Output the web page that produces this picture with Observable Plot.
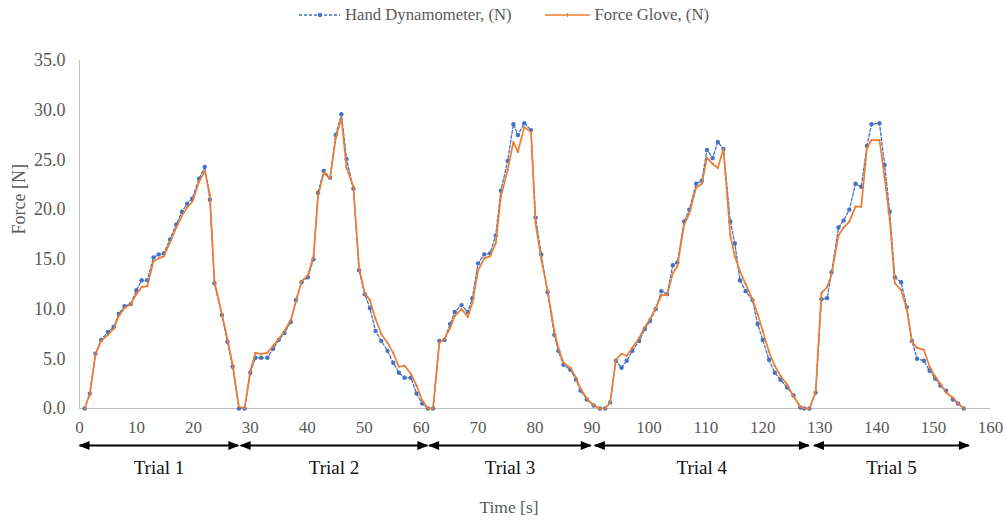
<!DOCTYPE html>
<html><head><meta charset="utf-8">
<script src="https://cdn.jsdelivr.net/npm/d3@7"></script>
<script src="https://cdn.jsdelivr.net/npm/@observablehq/plot@0.6"></script>
<style>
body{margin:0;background:#fff;font-family:"Liberation Serif","Times New Roman",serif;}
#legend{height:30px;display:flex;justify-content:center;align-items:center;gap:32px;font-size:16.7px;color:#595959;}
.item{display:flex;align-items:center;gap:4px;}
#chart svg{display:block;}
</style></head><body>
<div id="legend"></div>
<div id="chart"></div>
<script>
const seriesNames = ["Hand Dynamometer, (N)", "Force Glove, (N)"];
const seriesColors = ["#4472C4", "#ED7D31"];

const time = [
  0.9, 1.8, 2.8, 3.8, 5.0, 6.0, 6.9, 7.9, 9.0, 10.0, 10.9, 11.9, 13.0, 13.9, 14.8, 15.9, 17.0, 18.0, 18.9, 19.8, 21.0, 22.0, 22.9, 23.7, 25.0, 26.0, 26.9, 28.0,
  29.0, 30.0, 30.9, 31.9, 33.0, 34.0, 35.0, 36.0, 37.1, 38.0, 39.0, 40.1, 41.1, 41.9, 42.9, 44.0, 45.0, 46.0, 46.9, 48.1, 49.1, 50.1, 51.0, 52.0, 53.0, 54.1, 55.1, 56.1, 57.1, 58.2, 59.2, 60.2, 61.2, 62.1,
  63.2, 64.1, 65.1, 65.9, 67.1, 68.2, 69.0, 70.0, 71.1, 72.1, 73.1, 74.0, 75.2, 76.2, 77.0, 78.1, 79.3, 80.1, 81.1, 82.2, 83.4, 84.1, 85.0, 86.2, 87.2, 88.0, 89.1, 90.3, 91.4, 92.3,
  93.2, 94.2, 95.2, 96.1, 97.1, 98.3, 99.3, 100.2, 101.2, 102.2, 103.2, 104.2, 105.0, 106.2, 107.1, 108.3, 109.3, 110.2, 111.2, 112.1, 113.1, 114.3, 115.1, 116.0, 117.0, 118.2, 119.1, 120.0, 121.1, 122.1, 123.1, 124.3, 125.4, 126.6, 127.3,
  128.2, 129.3, 130.3, 131.3, 132.1, 133.3, 134.2, 135.2, 136.3, 137.3, 138.3, 139.1, 140.5, 141.4, 142.3, 143.2, 144.3, 145.3, 146.2, 147.1, 148.3, 149.3, 150.3, 151.2, 152.2, 153.4, 154.3, 155.3
];
const handDynamometer = [
  0, 1.5, 5.5, 6.9, 7.7, 8.2, 9.5, 10.3, 10.5, 11.9, 12.9, 12.9, 15.2, 15.5, 15.6, 17.0, 18.5, 19.8, 20.6, 21.1, 23.1, 24.3, 21.0, 12.6, 9.4, 6.7, 4.2, 0,
  0, 3.6, 5.1, 5.1, 5.1, 6.0, 6.9, 7.6, 8.7, 10.9, 12.7, 13.2, 15.0, 21.7, 23.9, 23.2, 27.5, 29.6, 25.1, 22.1, 13.9, 11.5, 10.1, 7.8, 6.8, 5.8, 4.6, 3.6, 3.1, 3.1, 1.5, 0.5, 0, 0,
  6.8, 6.9, 8.5, 9.7, 10.4, 9.7, 11.1, 14.6, 15.5, 15.6, 17.4, 21.9, 24.9, 28.6, 27.5, 28.7, 28.0, 19.2, 15.5, 11.7, 7.4, 5.8, 4.4, 3.9, 2.9, 1.8, 0.9, 0.3, 0, 0,
  0.6, 4.8, 4.1, 4.8, 5.8, 6.8, 8.0, 8.8, 10.0, 11.8, 11.5, 14.4, 14.7, 18.8, 20.0, 22.6, 22.9, 26.0, 25.2, 26.8, 26.1, 18.8, 16.6, 12.9, 11.8, 10.9, 8.5, 6.9, 4.9, 3.6, 2.9, 2.1, 1.3, 0.1, 0,
  0, 1.6, 11.0, 11.1, 13.7, 18.2, 18.9, 20.0, 22.6, 22.3, 26.4, 28.6, 28.7, 24.5, 19.8, 13.2, 12.7, 10.2, 6.8, 5.0, 4.8, 3.8, 3.0, 2.3, 1.8, 0.9, 0.5, 0
];
const forceGlove = [
  0, 1.4, 5.4, 6.8, 7.4, 8.0, 9.3, 10.1, 10.5, 11.5, 12.2, 12.3, 14.8, 15.1, 15.3, 16.7, 18.2, 19.4, 20.2, 20.8, 22.8, 23.9, 21.5, 12.8, 9.5, 6.9, 4.4, 0.2,
  0, 3.8, 5.6, 5.5, 5.6, 6.3, 7.0, 7.8, 8.9, 10.7, 12.8, 13.4, 15.3, 21.4, 23.7, 23.1, 27.2, 29.2, 24.2, 22.3, 14.2, 11.6, 10.9, 9.0, 7.5, 6.6, 5.6, 4.2, 4.3, 3.5, 2.3, 0.8, 0, 0,
  6.6, 7.0, 8.1, 9.3, 10.0, 9.2, 10.6, 13.9, 15.1, 15.3, 16.6, 21.3, 24.0, 26.8, 25.8, 28.3, 27.8, 18.6, 15.0, 11.9, 7.8, 6.1, 4.6, 4.1, 3.1, 2.0, 1.0, 0.3, 0, 0,
  0.6, 4.9, 5.5, 5.3, 6.1, 7.1, 8.2, 9.0, 10.1, 11.4, 11.4, 13.6, 14.3, 18.5, 19.6, 22.2, 22.6, 25.2, 24.6, 24.2, 26.1, 17.4, 15.3, 13.8, 12.5, 11.0, 9.5, 7.8, 5.7, 4.3, 3.3, 2.4, 1.2, 0.2, 0,
  0, 1.7, 11.6, 12.2, 13.5, 17.4, 18.2, 18.8, 20.3, 20.3, 26.2, 27.0, 27.0, 23.3, 19.0, 12.6, 11.9, 10.0, 6.7, 6.1, 5.9, 4.2, 3.2, 2.5, 1.6, 1.1, 0.5, 0
];

const trialNames = ["Trial 1", "Trial 2", "Trial 3", "Trial 4", "Trial 5"];
const trialStart = [0, 28.3, 61.4, 90.5, 129.0];
const trialEnd = [27.9, 61.1, 89.8, 128.1, 156.2];

const xTicks = [0, 10, 20, 30, 40, 50, 60, 70, 80, 90, 100, 110, 120, 130, 140, 150, 160];
const yTicks = [0, 5, 10, 15, 20, 25, 30, 35];
const xTitle = "Time [s]";
const yTitle = "Force [N]";

// ---- build tables ----
const dyn = time.map((t, i) => ({t, v: handDynamometer[i]}));
const glove = time.map((t, i) => ({t, v: forceGlove[i]}));
const trials = trialNames.map((name, i) => ({name, start: trialStart[i], end: trialEnd[i]}));

// ---- legend ----
const legend = document.getElementById("legend");
legend.innerHTML = `
<div class="item"><svg width="43" height="10"><line x1="1" x2="42" y1="5" y2="5" stroke="${seriesColors[0]}" stroke-width="1.3" stroke-dasharray="3,2"/><circle cx="22" cy="5" r="2.2" fill="${seriesColors[0]}"/></svg><span>${seriesNames[0]}</span></div>
<div class="item"><svg width="47" height="10"><line x1="1" x2="46" y1="5" y2="5" stroke="${seriesColors[1]}" stroke-width="1.5"/><line x1="23.5" x2="23.5" y1="3" y2="7" stroke="${seriesColors[1]}" stroke-width="1"/></svg><span>${seriesNames[1]}</span></div>`;

const headRight = {draw(ctx) { ctx.moveTo(1, 0); ctx.lineTo(-10, -4.5); ctx.lineTo(-10, 4.5); ctx.closePath(); }};
const headLeft = {draw(ctx) { ctx.moveTo(-1, 0); ctx.lineTo(10, -4.5); ctx.lineTo(10, 4.5); ctx.closePath(); }};
const zero = () => 0;

const chart = Plot.plot({
  width: 1007,
  height: 494,
  marginLeft: 79,
  marginRight: 17,
  marginTop: 30,
  marginBottom: 116,
  style: {fontFamily: '"Liberation Serif", "Times New Roman", serif', fontSize: "17px", color: "#595959", background: "#fff", overflow: "visible"},
  x: {domain: [0, 160]},
  y: {domain: [0, 35]},
  marks: [
    Plot.axisX({ticks: xTicks, tickSize: 0, tickPadding: 12, fontSize: 17, label: null}),
    Plot.axisY({ticks: yTicks, tickSize: 0, tickPadding: 14, fontSize: 18, tickFormat: d => d.toFixed(1), label: null}),
    Plot.ruleX([0], {stroke: "#bfbfbf", strokeWidth: 1}),
    Plot.ruleY([0], {stroke: "#bfbfbf", strokeWidth: 1}),
    Plot.line(dyn, {x: "t", y: "v", stroke: seriesColors[0], strokeWidth: 1.3, strokeDasharray: "3,2"}),
    Plot.dot(dyn, {x: "t", y: "v", r: 2.2, fill: seriesColors[0], stroke: null}),
    Plot.line(glove, {x: "t", y: "v", stroke: seriesColors[1], strokeWidth: 1.7}),
    Plot.dot(glove, {x: "t", y: "v", r: 1.1, fill: seriesColors[1], stroke: null}),
    Plot.text([yTitle], {frameAnchor: "left", dx: -60, rotate: -90, fontSize: 18, fill: "#595959"}),
    Plot.text([xTitle], {frameAnchor: "bottom", dx: -26, dy: 104, fontSize: 17.5, fill: "#595959"}),
    Plot.link(trials, {x1: "start", x2: "end", y1: zero, y2: zero, dy: 37, stroke: "#000", strokeWidth: 2}),
    Plot.dot(trials, {x: "end", y: zero, dy: 37, symbol: headRight, fill: "#000", stroke: null}),
    Plot.dot(trials, {x: "start", y: zero, dy: 37, symbol: headLeft, fill: "#000", stroke: null}),
    Plot.text(trials, {x: d => (d.start + d.end) / 2, y: zero, dy: 59, text: "name", fontSize: 19, fill: "#111"})
  ]
});
document.getElementById("chart").appendChild(chart);
</script>
</body></html>
